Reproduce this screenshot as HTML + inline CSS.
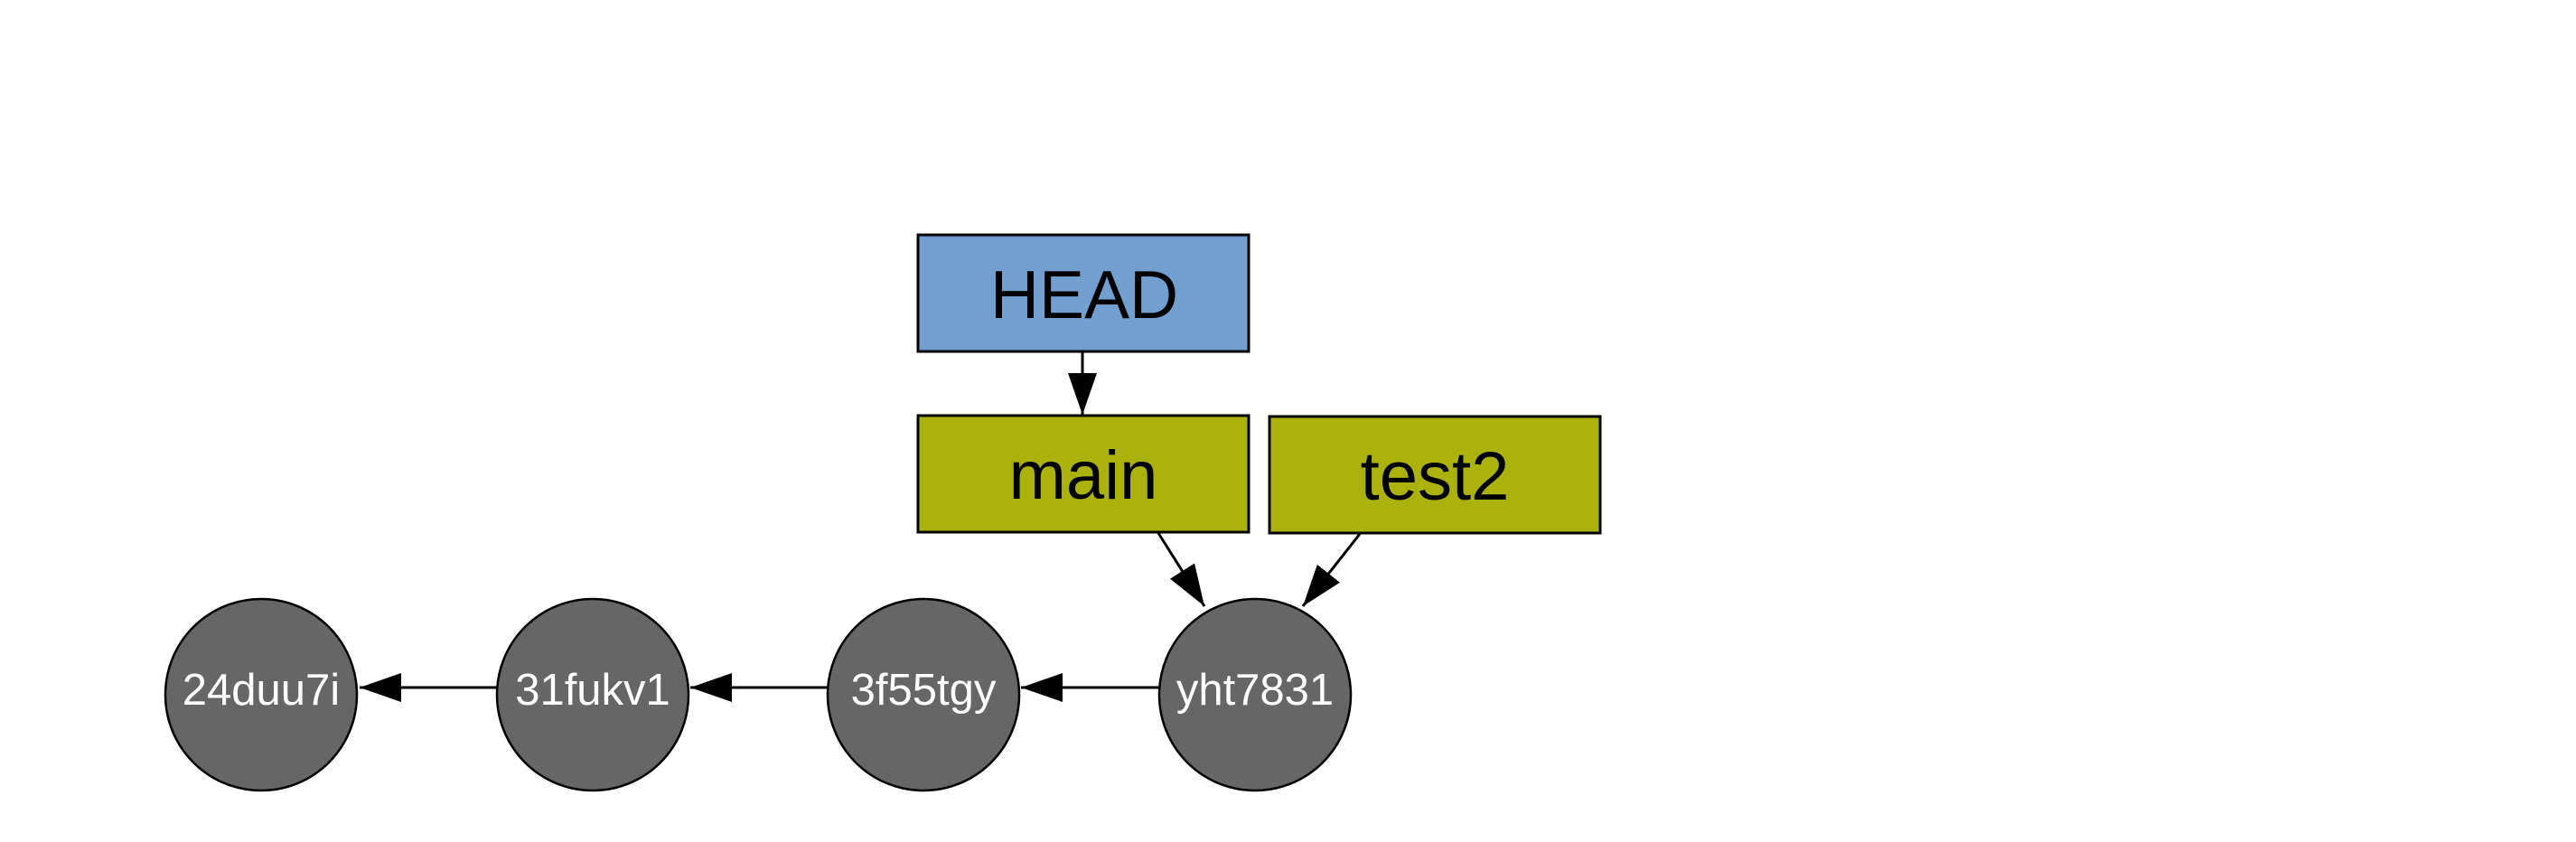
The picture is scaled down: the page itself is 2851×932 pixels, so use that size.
<!DOCTYPE html>
<html><head><meta charset="utf-8"><style>
html,body{margin:0;padding:0;background:#fff;}
svg{display:block;}
</style></head><body>
<svg width="2851" height="932" viewBox="0 0 2851 932" xmlns="http://www.w3.org/2000/svg" font-family="Liberation Sans, sans-serif">
<defs>
<marker id="a" markerUnits="userSpaceOnUse" markerWidth="48" markerHeight="32" refX="46" refY="16" orient="auto">
<path d="M0,0 L46,16 L0,32 Z" fill="#000"/>
</marker>
</defs>
<rect x="1016" y="260" width="366" height="129" fill="#729fcf" stroke="#000" stroke-width="3"/>
<text x="1200" y="352" font-size="75" text-anchor="middle" fill="#000">HEAD</text>
<rect x="1016" y="460" width="366" height="129" fill="#abb20c" stroke="#000" stroke-width="3"/>
<text x="1199" y="552" font-size="76" text-anchor="middle" fill="#000">main</text>
<rect x="1405" y="461" width="366" height="129" fill="#abb20c" stroke="#000" stroke-width="3"/>
<text x="1588" y="553" font-size="76" text-anchor="middle" fill="#000">test2</text>
<line x1="1198" y1="389" x2="1198" y2="459" stroke="#000" stroke-width="3" marker-end="url(#a)"/>
<line x1="1282" y1="590" x2="1333" y2="671" stroke="#000" stroke-width="3" marker-end="url(#a)"/>
<line x1="1505" y1="591" x2="1442" y2="671" stroke="#000" stroke-width="3" marker-end="url(#a)"/>
<g fill="#666" stroke="#000" stroke-width="2.5">
<circle cx="289" cy="769" r="106"/>
<circle cx="656" cy="769" r="106"/>
<circle cx="1022" cy="769" r="106"/>
<circle cx="1389" cy="769" r="106"/>
</g>
<line x1="1283" y1="761" x2="1130" y2="761" stroke="#000" stroke-width="3" marker-end="url(#a)"/>
<line x1="916" y1="761" x2="764" y2="761" stroke="#000" stroke-width="3" marker-end="url(#a)"/>
<line x1="550" y1="761" x2="398" y2="761" stroke="#000" stroke-width="3" marker-end="url(#a)"/>
<g font-size="49" fill="#fff" text-anchor="middle">
<text x="289" y="780">24duu7i</text>
<text x="656" y="780">31fukv1</text>
<text x="1022" y="780">3f55tgy</text>
<text x="1389" y="780">yht7831</text>
</g>
</svg>
</body></html>
